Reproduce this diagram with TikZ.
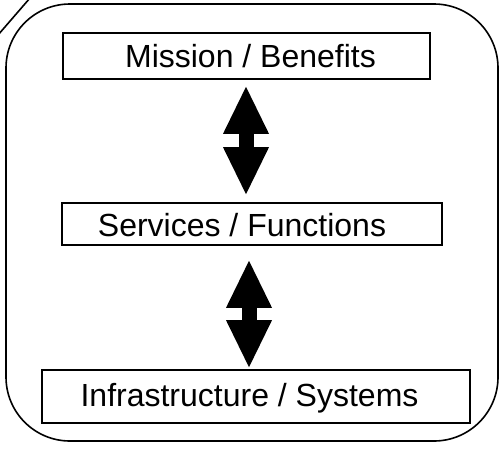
\documentclass[tikz,border=0pt]{standalone}
\usepackage{fontspec}
\setmainfont{Liberation Sans}
\usetikzlibrary{arrows.meta}
\tikzset{
  layerbox/.style={draw=black, line width=1.6pt, fill=white, inner sep=0pt},
  layertext/.style={anchor=base, inner sep=0pt, font=\fontsize{32}{37}\selectfont},
  bigarrow/.style={line width=15pt, line cap=butt,
    {Triangle[length=47pt,width=46pt,line width=0pt]}-{Triangle[length=47pt,width=46pt,line width=0pt]}},
}
\begin{document}
\begin{tikzpicture}[x=1pt,y=-1pt]
\useasboundingbox (0,0) rectangle (500,448);
\draw[line width=1.6pt, rounded corners=64pt] (6,4) rectangle (498,441);
\draw[line width=1.6pt] (-2,35) -- (30,-2);
\node[layerbox, minimum width=367pt, minimum height=46pt] (m) at (246.5,56) {};
\node[layerbox, minimum width=380pt, minimum height=42pt] (s) at (252,224) {};
\node[layerbox, minimum width=428pt, minimum height=53pt] (i) at (256,396.5) {};
\node[layertext] (mt) at (250.5,67) {Mission / Benefits};
\node[layertext] (st) at (242,236.5) {Services / Functions};
\node[layertext] (it) at (249.5,406.5) {Infrastructure / Systems};
\draw[bigarrow] ([xshift=-0.5pt,yshift=-7pt]m.south) -- ([xshift=-0.5pt,yshift=8pt]m.south |- s.north);
\draw[bigarrow] ([xshift=-3pt,yshift=-15pt]s.south) -- ([xshift=-3pt,yshift=2pt]s.south |- i.north);
\end{tikzpicture}
\end{document}
